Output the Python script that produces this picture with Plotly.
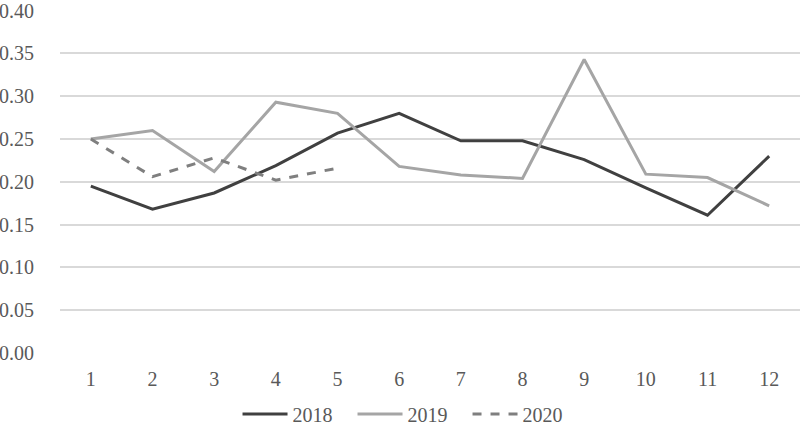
import plotly.graph_objects as go

months = ["1", "2", "3", "4", "5", "6", "7", "8", "9", "10", "11", "12"]
s2018 = [0.195, 0.168, 0.187, 0.219, 0.257, 0.280, 0.248, 0.248, 0.226, 0.193, 0.161, 0.230]
s2019 = [0.250, 0.260, 0.212, 0.293, 0.280, 0.218, 0.208, 0.204, 0.343, 0.209, 0.205, 0.172]
s2020 = [0.250, 0.206, 0.228, 0.202, 0.216]
y_ticks = [0.0, 0.05, 0.10, 0.15, 0.20, 0.25, 0.30, 0.35, 0.40]

fig = go.Figure()
fig.add_trace(go.Scatter(x=months, y=s2018, mode="lines", name="2018",
                         line=dict(color="#404040", width=3)))
fig.add_trace(go.Scatter(x=months, y=s2019, mode="lines", name="2019",
                         line=dict(color="#a5a5a5", width=3)))
fig.add_trace(go.Scatter(x=months[:len(s2020)], y=s2020, mode="lines", name="2020",
                         line=dict(color="#7f7f7f", width=3, dash="dash")))

serif = "'Liberation Serif', 'Times New Roman', 'DejaVu Serif', serif"
fig.update_layout(
    width=800, height=425,
    margin=dict(l=60, r=0, t=10, b=72, autoexpand=False),
    paper_bgcolor="white", plot_bgcolor="white",
    font=dict(family=serif, size=20, color="#595959"),
    showlegend=True,
    legend=dict(orientation="h", x=0.473, xanchor="center", y=-0.178, yanchor="middle",
                font=dict(family=serif, size=20, color="#595959"), itemwidth=45,
                entrywidth=55, entrywidthmode="pixels", tracegroupgap=0),
    xaxis=dict(type="category", showgrid=False, showline=False, zeroline=False,
               ticks="", ticklabelstandoff=12, range=[-0.5, 11.5]),
    yaxis=dict(range=[0, 0.4008], tickvals=y_ticks, tickformat=".2f",
               showgrid=True, gridcolor="#d9d9d9", gridwidth=1.5,
               zeroline=False, showline=False, ticks="", ticklabelstandoff=25,
               ticklabeloverflow="allow"),
)

fig.write_html("out.html", config={"displayModeBar": False},
               post_script="document.body.style.margin='0';document.body.style.overflow='hidden';")
